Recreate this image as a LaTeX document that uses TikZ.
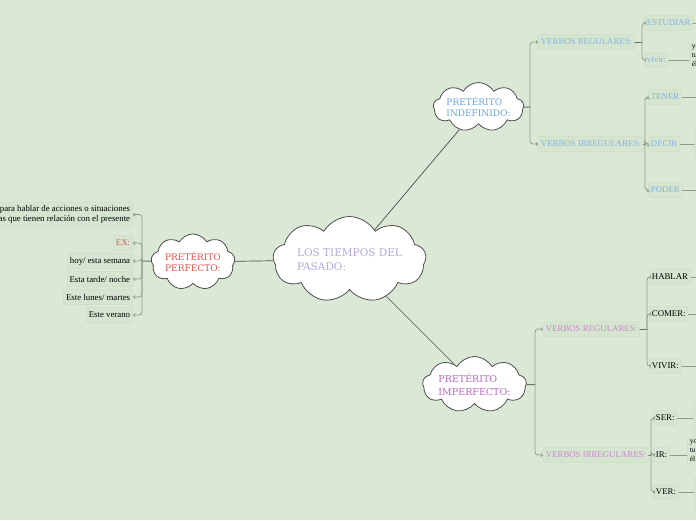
\documentclass[tikz,border=0pt]{standalone}
\usepackage{fontspec}
\setmainfont{Liberation Serif}
\newfontfamily\slab{DejaVu Serif}
\usetikzlibrary{shapes.symbols,arrows.meta,backgrounds}

\definecolor{bg}{RGB}{220,232,214}
\definecolor{leafbg}{RGB}{214,229,208}
\definecolor{leafline}{RGB}{207,225,201}
\definecolor{twigc}{RGB}{140,156,138}
\definecolor{stemc}{RGB}{105,115,105}
\definecolor{lilac}{RGB}{180,168,222}
\definecolor{redt}{RGB}{232,82,72}
\definecolor{bluet}{RGB}{106,164,220}
\definecolor{bluel}{RGB}{130,178,225}
\definecolor{purt}{RGB}{190,100,200}
\definecolor{purl}{RGB}{200,135,205}

\begin{document}
\begin{tikzpicture}[
		x=1pt, y=-1pt, line join=round, line cap=round,
		nube/.style={cloud, cloud puffs=9, cloud puff arc=120, cloud ignores aspect,
			draw=black!70, fill=white, line width=0.8pt, align=left, inner sep=0pt},
		leaf/.style={fill=leafbg, draw=leafline, line width=0.8pt, rounded corners=2pt,
			inner xsep=2.5pt, inner ysep=1pt, minimum height=15pt,
			font=\fontsize{8.8}{9.8}\selectfont},
		trunk/.style={draw=black!70, line width=0.7pt},
		stem/.style={draw=stemc, line width=1pt},
		twig/.style={draw=twigc, line width=0.8pt, rounded corners=3pt,
			-{Straight Barb[length=1.5pt,width=3pt]}},
		edge/.style={draw=twigc, line width=0.8pt}
	]
	\useasboundingbox (0,0) rectangle (696,520);
	\clip (0,0) rectangle (696,520);
	\begin{scope}[on background layer]
		\fill[bg] (0,0) rectangle (696,520);
	\end{scope}

	% 1. NUBES
	\node[nube, minimum width=153pt, minimum height=86pt, text=lilac,
		font=\slab\fontsize{10.5}{13.5}\selectfont] (centro) at (349.5,259.5) {LOS TIEMPOS DEL\\PASADO:};
	\node[nube, minimum width=84pt, minimum height=56pt, text=redt,
		font=\slab\fontsize{9}{11}\selectfont] (perf) at (193,262) {PRETÉRITO\\PERFECTO:};
	\node[nube, minimum width=84pt, minimum height=49pt, text=bluet,
		font=\slab\fontsize{9}{11}\selectfont] (indef) at (478.5,107) {PRETÉRITO\\INDEFINIDO:};
	\node[nube, minimum width=104pt, minimum height=56pt, text=purt,
		font=\slab\fontsize{9.5}{13}\selectfont] (imperf) at (474.5,384.5) {PRETÉRITO\\IMPERFECTO:};

	\begin{scope}[on background layer]
		\draw[trunk] (centro) -- (indef);
		\draw[trunk] (centro) -- (imperf);
		\draw[trunk] (centro) -- (perf);
	\end{scope}

	% 2. PRETÉRITO PERFECTO
	\node[leaf, anchor=east, align=right, minimum height=25pt] (p1) at (133,214.5)
		{para hablar de acciones o situaciones\\as que tienen relación con el presente};
	\node[leaf, anchor=east, text=redt] (p2) at (133,243) {EX:};
	\node[leaf, anchor=east] (p3) at (133,261) {hoy/ esta semana};
	\node[leaf, anchor=east] (p4) at (133,279) {Esta tarde/ noche};
	\node[leaf, anchor=east] (p5) at (133,297) {Este lunes/ martes};
	\node[leaf, anchor=east] (p6) at (133,315) {Este verano};

	\coordinate (jPerf) at (142,261);
	\draw[stem] (perf) -- (jPerf);
	\foreach \n in {p1,p2,p3,p4,p5,p6}
		\draw[twig] (jPerf) |- (\n.east);

	% 3. PRETÉRITO INDEFINIDO
	\node[leaf, anchor=west, text=bluel] (ivr) at (538,42) {VERBOS REGULARES:};
	\node[leaf, anchor=west, text=bluel] (ivi) at (538,144) {VERBOS IRREGULARES:};
	\coordinate (jInd) at (530,107);
	\draw[stem] (indef) -- (jInd);
	\draw[twig] (jInd) |- (ivr.west);
	\draw[twig] (jInd) |- (ivi.west);

	\node[leaf, anchor=west, text=bluel] (estudiar) at (644,23) {ESTUDIAR};
	\node[leaf, anchor=west, text=bluel] (vivirA) at (644,60) {vivir:};
	\coordinate (jIvr) at (642,42);
	\draw[stem] (ivr) -- (jIvr);
	\draw[twig] (jIvr) |- (estudiar.west);
	\draw[twig] (jIvr) |- (vivirA.west);

	\node[leaf, anchor=north west, align=left, inner ysep=2pt,
		font=\fontsize{7.5}{9}\selectfont] (conjA) at (689,43) {yo\\tu\\él};
	\coordinate (estFin) at (700,23);
	\draw[edge] (estudiar) -- (estFin);
	\draw[edge] (vivirA) -- (vivirA -| conjA.west);

	\node[leaf, anchor=west, text=bluel] (tener) at (648,97) {TENER};
	\node[leaf, anchor=west, text=bluel] (decir) at (648,144) {DECIR};
	\node[leaf, anchor=west, text=bluel] (poder) at (648,190) {PODER};
	\coordinate (jIvi) at (645,144);
	\draw[stem] (ivi) -- (jIvi);
	\draw[twig] (jIvi) |- (tener.west);
	\draw[twig] (jIvi) |- (decir.west);
	\draw[twig] (jIvi) |- (poder.west);

	\node[leaf, anchor=north west, minimum width=40pt, minimum height=32pt] (conjD) at (694,128) {};
	\coordinate (tenerFin) at (700,97);
	\coordinate (poderFin) at (700,190);
	\draw[edge] (tener) -- (tenerFin);
	\draw[edge] (decir) -- (decir -| conjD.west);
	\draw[edge] (poder) -- (poderFin);

	% 4. PRETÉRITO IMPERFECTO
	\node[leaf, anchor=west, text=purl] (mvr) at (543,329) {VERBOS REGULARES:};
	\node[leaf, anchor=west, text=purl] (mvi) at (543,455) {VERBOS IRREGULARES:};
	\coordinate (jImp) at (535,384.5);
	\draw[stem] (imperf) -- (jImp);
	\draw[twig] (jImp) |- (mvr.west);
	\draw[twig] (jImp) |- (mvi.west);

	\node[leaf, anchor=west] (hablar) at (649,277) {HABLAR};
	\node[leaf, anchor=west] (comer) at (649,314) {COMER:};
	\node[leaf, anchor=west] (vivirB) at (649,366) {VIVIR:};
	\coordinate (jMvr) at (647,329);
	\draw[stem] (mvr) -- (jMvr);
	\draw[twig] (jMvr) |- (hablar.west);
	\draw[twig] (jMvr) |- (comer.west);
	\draw[twig] (jMvr) |- (vivirB.west);
	\coordinate (hablarFin) at (700,277);
	\coordinate (comerFin) at (700,314);
	\coordinate (vivirFin) at (700,366);
	\draw[edge] (hablar) -- (hablarFin);
	\draw[edge] (comer) -- (comerFin);
	\draw[edge] (vivirB) -- (vivirFin);

	\node[leaf, anchor=west] (ser) at (653,418) {SER:};
	\node[leaf, anchor=west] (ir) at (653,455) {IR:};
	\node[leaf, anchor=west] (ver) at (653,492) {VER:};
	\coordinate (jMvi) at (651,455);
	\draw[stem] (mvi) -- (jMvi);
	\draw[twig] (jMvi) |- (ser.west);
	\draw[twig] (jMvi) |- (ir.west);
	\draw[twig] (jMvi) |- (ver.west);

	\node[leaf, anchor=north west, minimum width=40pt, minimum height=33pt] (conjS) at (693,402) {};
	\node[leaf, anchor=north west, align=left, inner ysep=2pt,
		font=\fontsize{7.5}{9}\selectfont] (conjI) at (687,438) {yo\\tu\\él};
	\node[leaf, anchor=north west, minimum width=40pt, minimum height=32pt] (conjV) at (694,477) {};
	\draw[edge] (ser) -- (ser -| conjS.west);
	\draw[edge] (ir) -- (ir -| conjI.west);
	\draw[edge] (ver) -- (ver -| conjV.west);
\end{tikzpicture}
\end{document}
